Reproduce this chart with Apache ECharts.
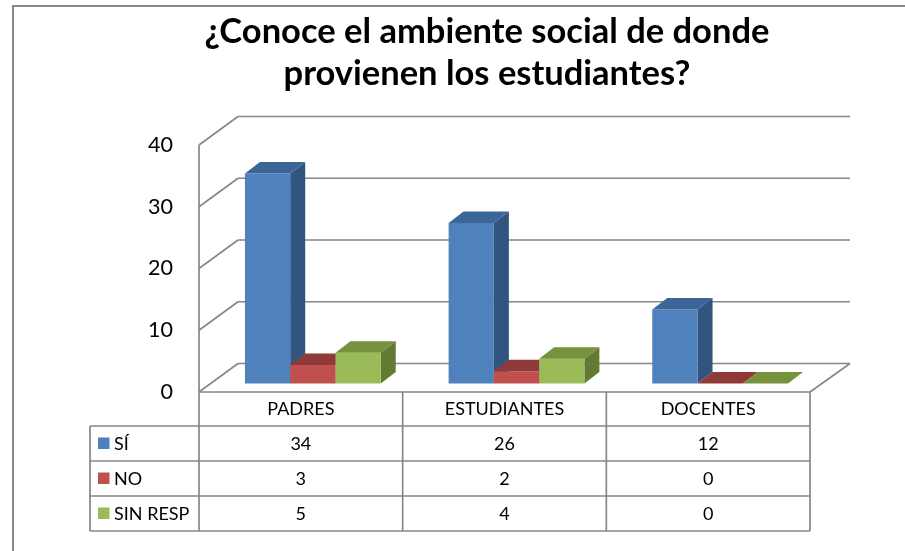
<!DOCTYPE html>
<html>
<head>
<meta charset="utf-8">
<script src="https://cdn.jsdelivr.net/npm/echarts@6/dist/echarts.min.js"></script>
<style>
  html, body { margin: 0; padding: 0; background: #ffffff; }
  #chart { width: 905px; height: 551px; }
</style>
</head>
<body>
<div id="chart"></div>
<script>
// ---- data ----
const chartTitle = '¿Conoce el ambiente social de donde\nprovienen los estudiantes?';
const categories = ['PADRES', 'ESTUDIANTES', 'DOCENTES'];
const seriesNames = ['SÍ', 'NO', 'SIN RESP'];
const siValues = [34, 26, 12];
const noValues = [3, 2, 0];
const sinRespValues = [5, 4, 0];
const yTicks = [0, 10, 20, 30, 40];

// ---- styling ----
const seriesValues = [siValues, noValues, sinRespValues];
const palette = [
  { front: '#4F81BD', top: '#3C6697', side: '#32557F' },
  { front: '#C0504D', top: '#8F3A38', side: '#883533' },
  { front: '#9BBB59', top: '#76923C', side: '#627A32' }
];
const FONT = 'Lato, "Open Sans", "Liberation Sans", sans-serif';
const LINE = '#878787';
const LINE_W = 1.7;
const WALL = [39, -28.5];      // back wall offset from the front plane
const BAR_PLANE = [12, -8.5];  // bars stand a little behind the front edge
const BAR_DEPTH = [15, -11.5]; // depth of each column
const TABLE = { headerH: 34, rowH: 35, keyColW: 109 };

// back wall, left wall and floor outline
function renderWalls(params, api) {
  const cs = params.coordSys;
  const left = cs.x, right = cs.x + cs.width;
  const p = api.coord([0, api.value(1)]);
  const y = p[1];
  const children = [
    { type: 'line', shape: { x1: left, y1: y, x2: left + WALL[0], y2: y + WALL[1] },
      style: { stroke: LINE, lineWidth: LINE_W } },
    { type: 'line', shape: { x1: left + WALL[0], y1: y + WALL[1], x2: right + WALL[0] + 1, y2: y + WALL[1] },
      style: { stroke: LINE, lineWidth: LINE_W } }
  ];
  if (api.value(1) === yTicks[0]) {
    children.push({ type: 'line', shape: { x1: right, y1: y, x2: right + WALL[0] + 1, y2: y + WALL[1] },
      style: { stroke: LINE, lineWidth: LINE_W } });
  }
  if (api.value(1) === yTicks[yTicks.length - 1]) {
    const y0 = api.coord([0, yTicks[0]])[1];
    children.push({ type: 'line', shape: { x1: left, y1: y, x2: left, y2: y0 },
      style: { stroke: LINE, lineWidth: LINE_W } });
  }
  return { type: 'group', children };
}

// 3D column for one series
function columnRenderer(sIdx) {
  return function (params, api) {
    const cat = api.value(0), val = api.value(1);
    const band = api.size([1, 0])[0];
    const bw = band / 4.5;
    const base = api.coord([cat, 0]);
    const top = api.coord([cat, val]);
    const x0 = base[0] - 1.5 * bw + sIdx * bw + BAR_PLANE[0];
    const x1 = x0 + bw;
    const yb = base[1] + BAR_PLANE[1];
    const yt = top[1] + BAR_PLANE[1];
    const dx = BAR_DEPTH[0], dy = BAR_DEPTH[1];
    const c = palette[sIdx];
    const children = [];
    if (yb - yt > 0.5) {
      children.push({ type: 'polygon',
        shape: { points: [[x1, yt], [x1 + dx, yt + dy], [x1 + dx, yb + dy], [x1, yb]] },
        style: { fill: c.side } });
      children.push({ type: 'rect', shape: { x: x0, y: yt, width: bw, height: yb - yt },
        style: { fill: c.front } });
    }
    children.push({ type: 'polygon',
      shape: { points: [[x0, yt], [x0 + dx, yt + dy], [x1 + dx, yt + dy], [x1, yt]] },
      style: { fill: c.top } });
    return { type: 'group', children };
  };
}

// data table under the plot: one column per category
function renderTable(params, api) {
  const cs = params.coordSys;
  const left = cs.x, right = cs.x + cs.width;
  const cat = api.value(0);
  const band = api.size([1, 0])[0];
  const cx = api.coord([cat, 0])[0];
  const top = cs.y + cs.height;
  const rowsTop = top + TABLE.headerH;
  const bottom = rowsTop + TABLE.rowH * seriesNames.length;
  const lineStyle = { stroke: LINE, lineWidth: LINE_W };
  const children = [];
  // right border of the column
  children.push({ type: 'line', shape: { x1: cx + band / 2, y1: top, x2: cx + band / 2, y2: bottom }, style: lineStyle });
  seriesNames.forEach(function (name, r) {
    children.push({ type: 'text', style: {
      text: String(seriesValues[r][cat]), x: cx, y: rowsTop + TABLE.rowH * (r + 0.5) + 1,
      align: 'center', verticalAlign: 'middle', fontFamily: FONT, fontSize: 18, fill: '#000' } });
  });
  if (cat === 0) {
    const keyLeft = left - TABLE.keyColW;
    children.push({ type: 'line', shape: { x1: left, y1: top, x2: right, y2: top }, style: lineStyle });
    children.push({ type: 'line', shape: { x1: left, y1: top, x2: left, y2: bottom }, style: lineStyle });
    children.push({ type: 'line', shape: { x1: keyLeft, y1: rowsTop, x2: keyLeft, y2: bottom }, style: lineStyle });
    for (let r = 0; r <= seriesNames.length; r++) {
      const y = rowsTop + TABLE.rowH * r;
      children.push({ type: 'line', shape: { x1: keyLeft, y1: y, x2: right, y2: y }, style: lineStyle });
    }
    seriesNames.forEach(function (name, r) {
      const ym = rowsTop + TABLE.rowH * (r + 0.5);
      children.push({ type: 'rect', shape: { x: keyLeft + 8, y: ym - 6, width: 11.5, height: 11.5 },
        style: { fill: palette[r].front } });
      children.push({ type: 'text', style: {
        text: name, x: keyLeft + 24, y: ym + 1, align: 'left', verticalAlign: 'middle',
        fontFamily: FONT, fontSize: 18, fill: '#000' } });
    });
  }
  return { type: 'group', children };
}

const chart = echarts.init(document.getElementById('chart'), null, { renderer: 'canvas' });

const series = [
  {
    type: 'custom', name: 'walls', renderItem: renderWalls, clip: false, silent: true, z: 1,
    encode: { x: 0, y: 1 },
    data: yTicks.map(function (v) { return [0, v]; })
  }
];
seriesNames.forEach(function (name, s) {
  series.push({
    type: 'custom', name: name, renderItem: columnRenderer(s), clip: false, z: 2 + s,
    encode: { x: 0, y: 1 },
    data: seriesValues[s].map(function (v, i) { return [i, v]; })
  });
});
series.push({
  type: 'custom', name: 'table', renderItem: renderTable, clip: false, silent: true, z: 10,
  encode: { x: 0, y: 1 },
  data: categories.map(function (c, i) { return [i, 0]; })
});

chart.setOption({
  backgroundColor: '#ffffff',
  animation: false,
  title: {
    text: chartTitle,
    left: 482,
    top: 6,
    textAlign: 'center',
    textStyle: { fontFamily: FONT, fontWeight: 'bold', fontSize: 34.5, lineHeight: 42, color: '#000' }
  },
  graphic: [{
    type: 'rect', silent: true, z: 0,
    shape: { x: 13, y: 6, width: 1000, height: 1000 },
    style: { fill: null, stroke: LINE, lineWidth: 2 }
  }],
  grid: { left: 199, right: 95, top: 145, bottom: 159, containLabel: false },
  xAxis: {
    type: 'category',
    data: categories,
    boundaryGap: true,
    axisLine: { show: false },
    axisTick: { show: false },
    axisLabel: { margin: 17, verticalAlign: 'middle', fontFamily: FONT, fontSize: 18, color: '#000' },
    splitLine: { show: false }
  },
  yAxis: {
    type: 'value',
    min: 0, max: 40, interval: 10,
    axisLine: { show: false },
    axisTick: { show: false },
    splitLine: { show: false },
    axisLabel: { margin: 26, padding: [5, 0, 0, 0], fontFamily: FONT, fontSize: 21.5, color: '#000' }
  },
  series: series
});
</script>
</body>
</html>
